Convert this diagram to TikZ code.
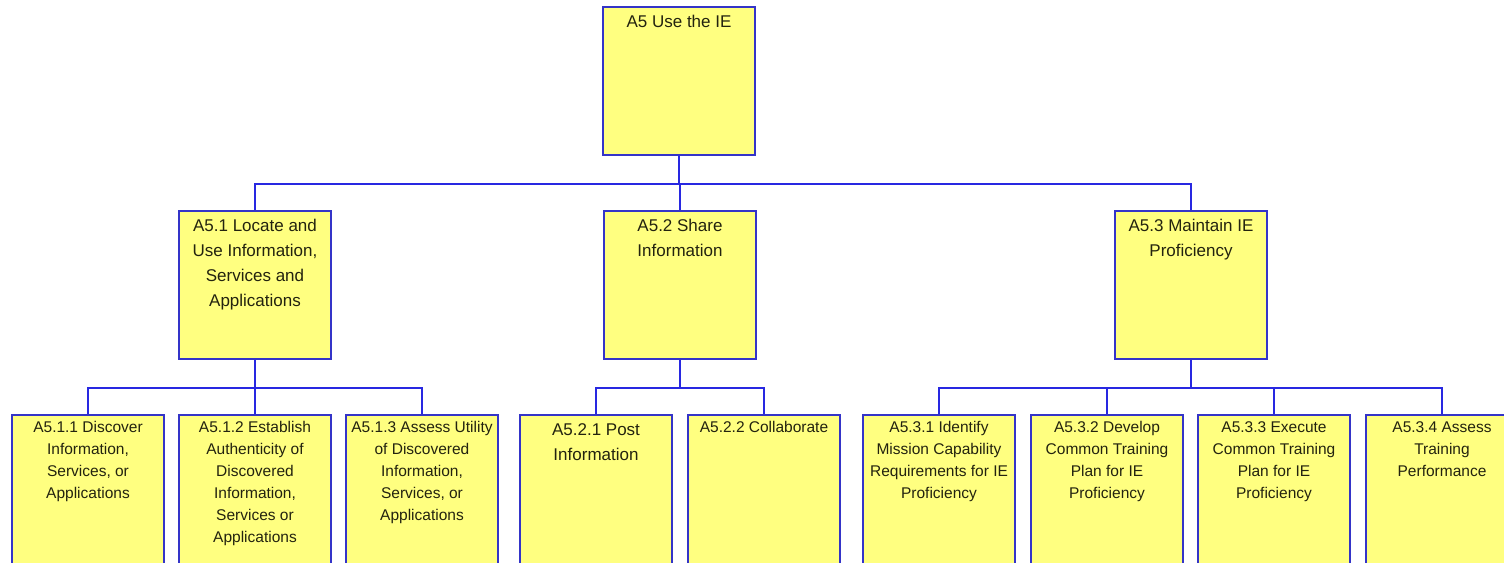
\documentclass[tikz,border=0pt]{standalone}
\usepackage{fontspec}
\setmainfont{Liberation Sans}
\definecolor{boxyellow}{RGB}{255,255,128}
\definecolor{boxblue}{RGB}{52,52,200}
\definecolor{linkblue}{RGB}{40,40,225}
\definecolor{txt}{RGB}{35,35,15}
\begin{document}
\begin{tikzpicture}[x=1pt,y=-1pt,
  box/.style={draw=boxblue,fill=boxyellow,line width=2pt,minimum width=152pt,inner sep=0pt},
  bigbox/.style={box,minimum height=148pt},
  lowbox/.style={box,minimum height=165pt},
  bigtxt/.style={anchor=north,inner sep=0pt,yshift=-9pt,align=center,text=txt,font=\fontsize{17}{25}\selectfont},
  smalltxt/.style={anchor=north,inner sep=0pt,yshift=-7.5pt,align=center,text=txt,font=\fontsize{15.5}{22}\selectfont},
  link/.style={draw=linkblue,line width=2pt}]
\useasboundingbox (0,0) rectangle (1504,562);
\clip (0,0) rectangle (1504,562);
\coordinate (busA) at (0,184);
\coordinate (busB) at (0,388);
\node[bigbox] (a5) at (679,81) {};
\node[bigbox] (a51) at (255,284.5) {};
\node[bigbox] (a52) at (680,284.5) {};
\node[bigbox] (a53) at (1191,284.5) {};
\node[lowbox] (a511) at (88,497.5) {};
\node[lowbox] (a512) at (255,497.5) {};
\node[lowbox] (a513) at (422,497.5) {};
\node[lowbox] (a521) at (596,497.5) {};
\node[lowbox] (a522) at (764,497.5) {};
\node[lowbox] (a531) at (939,497.5) {};
\node[lowbox] (a532) at (1107,497.5) {};
\node[lowbox] (a533) at (1274,497.5) {};
\node[lowbox] (a534) at (1442,497.5) {};
% links
\draw[link] (a5.south) -- (a5.south |- busA);
\draw[link] (a51.north) |- (a52.north |- busA) -| (a53.north);
\draw[link] (a52.north) -- (a52.north |- busA);
\draw[link] (a51.south) -- (a51.south |- busB);
\draw[link] (a511.north) |- (a512.north |- busB) -| (a513.north);
\draw[link] (a512.north) -- (a512.north |- busB);
\draw[link] (a52.south) -- (a52.south |- busB);
\draw[link] (a521.north) |- (a522.north |- busB) -| (a522.north);
\draw[link] (a53.south) -- (a53.south |- busB);
\draw[link] (a531.north) |- (a534.north |- busB) -| (a534.north);
\draw[link] (a532.north) -- (a532.north |- busB);
\draw[link] (a533.north) -- (a533.north |- busB);
% labels
\node[bigtxt] (t5) at (a5.north) {A5 Use the IE};
\node[bigtxt] (t51) at (a51.north) {A5.1 Locate and\\Use Information,\\Services and\\Applications};
\node[bigtxt] (t52) at (a52.north) {A5.2 Share\\Information};
\node[bigtxt] (t53) at (a53.north) {A5.3 Maintain IE\\Proficiency};
\node[smalltxt] (t511) at (a511.north) {A5.1.1 Discover\\Information,\\Services, or\\Applications};
\node[smalltxt] (t512) at (a512.north) {A5.1.2 Establish\\Authenticity of\\Discovered\\Information,\\Services or\\Applications};
\node[smalltxt] (t513) at (a513.north) {A5.1.3 Assess Utility\\of Discovered\\Information,\\Services, or\\Applications};
\node[bigtxt] (t521) at (a521.north) {A5.2.1 Post\\Information};
\node[smalltxt] (t522) at (a522.north) {A5.2.2 Collaborate};
\node[smalltxt] (t531) at (a531.north) {A5.3.1 Identify\\Mission Capability\\Requirements for IE\\Proficiency};
\node[smalltxt] (t532) at (a532.north) {A5.3.2 Develop\\Common Training\\Plan for IE\\Proficiency};
\node[smalltxt] (t533) at (a533.north) {A5.3.3 Execute\\Common Training\\Plan for IE\\Proficiency};
\node[smalltxt] (t534) at (a534.north) {A5.3.4 Assess\\Training\\Performance};
\end{tikzpicture}
\end{document}
